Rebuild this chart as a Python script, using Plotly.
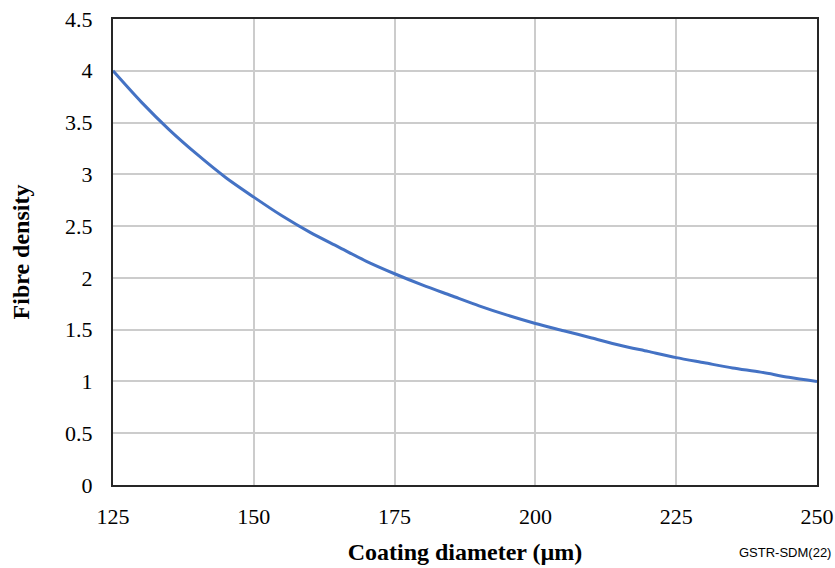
import plotly.graph_objects as go

diameter_um = [125, 130, 135, 140, 145, 150, 155, 160, 165, 170, 175, 180, 185,
               190, 195, 200, 205, 210, 215, 220, 225, 230, 235, 240, 245, 250]
fibre_density = [4.00, 3.70, 3.43, 3.19, 2.97, 2.78, 2.60, 2.44, 2.30, 2.16, 2.04,
                 1.93, 1.83, 1.73, 1.64, 1.56, 1.49, 1.42, 1.35, 1.29, 1.23, 1.18,
                 1.13, 1.09, 1.04, 1.00]
x_ticks = [125, 150, 175, 200, 225, 250]
y_ticks = [0, 0.5, 1, 1.5, 2, 2.5, 3, 3.5, 4, 4.5]
y_tick_text = ["0", "0.5", "1", "1.5", "2", "2.5", "3", "3.5", "4", "4.5"]

serif = "Liberation Serif, Times New Roman, serif"

fig = go.Figure()
fig.add_trace(go.Scatter(
    x=diameter_um, y=fibre_density, mode="lines",
    line=dict(color="#4472C4", width=3, shape="spline", smoothing=0.8),
    showlegend=False, hoverinfo="x+y"))

fig.update_layout(
    width=835, height=568,
    margin=dict(l=113, r=18, t=19, b=83, autoexpand=False),
    paper_bgcolor="white", plot_bgcolor="white",
    font=dict(family=serif, size=22, color="black"),
    xaxis=dict(range=[125, 250], tickvals=x_ticks, showgrid=True,
               gridcolor="#cccccc", gridwidth=1.5, showline=True,
               linecolor="#262626", linewidth=2, mirror=True,
               ticks="", ticklabelstandoff=11, zeroline=False,
               title=dict(text="<b>Coating diameter (µm)</b>",
                          font=dict(family=serif, size=24), standoff=15)),
    yaxis=dict(range=[0, 4.5], tickvals=y_ticks, ticktext=y_tick_text,
               showgrid=True, gridcolor="#cccccc", gridwidth=1.5,
               showline=True, linecolor="#262626", linewidth=2, mirror=True,
               ticks="", ticklabelstandoff=14, zeroline=False,
               title=dict(text="<b>Fibre density</b>",
                          font=dict(family=serif, size=24), standoff=29)),
    annotations=[dict(text="GSTR-SDM(22)", xref="paper", yref="paper",
                      x=1.0, y=-0.145, xanchor="right", yanchor="middle",
                      xshift=16, showarrow=False,
                      font=dict(family="Liberation Sans, Arial, sans-serif",
                                size=13, color="black"))],
)

fig.write_html("out.html", config={"displayModeBar": False},
               post_script="document.body.style.margin='0';document.body.style.padding='0';")
